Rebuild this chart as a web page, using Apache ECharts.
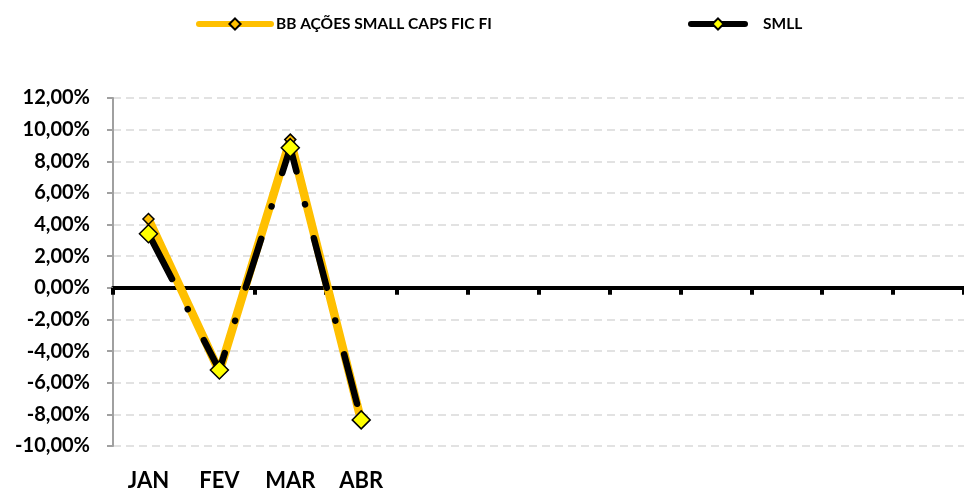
<!DOCTYPE html>
<html><head><meta charset="utf-8">
<script src="https://cdn.jsdelivr.net/npm/echarts@6/dist/echarts.min.js"></script>
<style>html,body{margin:0;padding:0;background:#fff}#c{width:964px;height:492px}</style>
</head><body><div id="c"></div>
<script>
const months = ['JAN','FEV','MAR','ABR','MAI','JUN','JUL','AGO','SET','OUT','NOV','DEZ'];
const shownMonths = 4;
const bbFund = [4.35, -5.3, 9.37, -8.4, null, null, null, null, null, null, null, null];
const smll = [3.42, -5.19, 8.86, -8.35, null, null, null, null, null, null, null, null];
const seriesNames = ['BB AÇÕES SMALL CAPS FIC FI', 'SMLL'];
const yTicks = {min: -10, max: 12, interval: 2};

const font = 'Lato, "Open Sans", "Liberation Sans", sans-serif';
const chart = echarts.init(document.getElementById('c'), null, {renderer: 'canvas'});
const legendText = {fontFamily: font, fontWeight: 'bold', fontSize: 15.5, color: '#000'};
chart.setOption({
  animation: false,
  legend: [
    {data: [seriesNames[0]], left: 191, top: 11, itemWidth: 72, itemHeight: 14,
     lineStyle: {width: 6, type: 'solid', cap: 'round'},
     textStyle: legendText},
    {data: [seriesNames[1]], left: 683, top: 11, itemWidth: 54, itemHeight: 14,
     lineStyle: {width: 6, type: 'solid', cap: 'round'},
     textStyle: Object.assign({}, legendText, {padding: [0, 0, 0, 13]})}
  ],
  grid: {left: 113, top: 98, bottom: 46, width: 852, containLabel: false},
  xAxis: [
    {type: 'category', data: months, boundaryGap: true, position: 'bottom',
     axisLine: {show: true, onZero: true, lineStyle: {color: '#000', width: 4}},
     axisTick: {show: true, inside: false, length: 7, lineStyle: {color: '#000', width: 4}},
     axisLabel: {show: false}},
    {type: 'category', data: months, boundaryGap: true, position: 'bottom',
     axisLine: {show: false, onZero: false}, axisTick: {show: false},
     axisLabel: {interval: 0, fontFamily: font, fontWeight: 'bold', fontSize: 22, color: '#000', margin: 24,
       formatter: (v, i) => (i < shownMonths ? v : '')}}
  ],
  yAxis: {type: 'value', min: yTicks.min, max: yTicks.max, interval: yTicks.interval,
    axisLine: {show: true, onZero: false, lineStyle: {color: '#a0a0a0', width: 2}},
    axisTick: {show: true, length: 6, lineStyle: {color: '#a0a0a0', width: 2}},
    axisLabel: {fontFamily: font, fontWeight: 'bold', fontSize: 20, color: '#000', margin: 23,
      formatter: v => v.toFixed(2).replace('.', ',') + '%'},
    splitLine: {show: true, lineStyle: {color: '#d9d9d9', type: [8, 5], width: 1.5}}
  },
  series: [
    {name: seriesNames[0], type: 'line', data: bbFund, xAxisIndex: 0,
     symbol: 'diamond', symbolSize: 11, showSymbol: true,
     lineStyle: {color: '#FFC000', width: 8.5},
     itemStyle: {color: '#FFC000', borderColor: '#000', borderWidth: 1.5}, z: 2},
    {name: seriesNames[1], type: 'line', data: smll, xAxisIndex: 0,
     symbol: 'diamond', symbolSize: 18, showSymbol: true,
     lineStyle: {color: '#000', width: 6.5, type: [51, 34, 0.1, 35], cap: 'round'},
     itemStyle: {color: '#FFFF00', borderColor: '#000', borderWidth: 1.5}, z: 3}
  ]
});
</script></body></html>
